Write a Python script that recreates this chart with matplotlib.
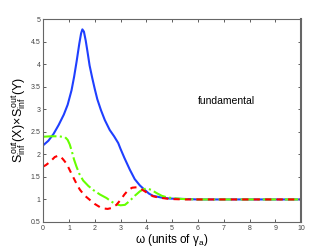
import matplotlib
matplotlib.use("Agg")
import matplotlib.pyplot as plt

plt.rcParams["font.family"] = ["Liberation Sans", "DejaVu Sans"]
plt.rcParams["mathtext.fontset"] = "custom"
plt.rcParams["mathtext.rm"] = "Liberation Sans"
plt.rcParams["mathtext.it"] = "Liberation Sans"

# blue solid curve
omega_b = [0.0, 0.2, 0.4, 0.6, 0.8, 0.95, 1.1, 1.2, 1.3, 1.4, 1.47, 1.52, 1.58, 1.65, 1.72,
           1.8, 1.9, 2.0, 2.1, 2.24, 2.39, 2.58, 2.75, 2.91, 3.0, 3.15, 3.36, 3.55, 3.75,
           3.94, 4.1, 4.26, 4.6, 4.91, 5.5, 6, 7, 8, 9, 10]
val_b = [2.2, 2.3, 2.45, 2.65, 2.88, 3.1, 3.42, 3.72, 4.07, 4.45, 4.68, 4.77, 4.72, 4.52, 4.27,
         3.97, 3.7, 3.45, 3.22, 2.98, 2.76, 2.54, 2.4, 2.25, 2.12, 1.92, 1.66, 1.45, 1.31,
         1.21, 1.13, 1.08, 1.04, 1.02, 1.01, 1.0, 1.0, 1.0, 1.0, 1.0]

# green dash-dot curve
omega_g = [0.0, 0.3, 0.6, 0.85, 0.95, 1.03, 1.12, 1.2, 1.29, 1.4, 1.55, 1.75, 1.94, 2.2,
           2.46, 2.65, 2.84, 3.0, 3.17, 3.36, 3.55, 3.75, 3.9, 4.05, 4.2, 4.4, 4.6, 4.78,
           5.0, 5.4, 6, 7, 8, 9, 10]
val_g = [2.39, 2.4, 2.4, 2.38, 2.32, 2.22, 2.05, 1.88, 1.73, 1.57, 1.42, 1.30, 1.21, 1.11,
         1.03, 0.95, 0.89, 0.87, 0.88, 0.97, 1.08, 1.18, 1.23, 1.24, 1.21, 1.14, 1.08, 1.05,
         1.03, 1.01, 1.0, 1.0, 1.0, 1.0, 1.0]

# red dashed curve
omega_r = [0.0, 0.1, 0.26, 0.45, 0.58, 0.68, 0.8, 0.91, 1.03, 1.16, 1.3, 1.42, 1.6, 1.81,
           2.0, 2.2, 2.35, 2.5, 2.65, 2.84, 3.0, 3.15, 3.3, 3.45, 3.62, 3.8, 3.94, 4.1,
           4.26, 4.5, 4.91, 5.5, 6, 7, 8, 9, 10]
val_r = [1.73, 1.76, 1.83, 1.94, 1.97, 1.95, 1.87, 1.79, 1.65, 1.50, 1.34, 1.22, 1.09, 0.99,
         0.90, 0.83, 0.80, 0.79, 0.81, 0.88, 0.99, 1.11, 1.21, 1.26, 1.27, 1.23, 1.18, 1.12,
         1.07, 1.04, 1.01, 1.0, 1.0, 1.0, 1.0, 1.0, 1.0]

x_ticks = [0, 1, 2, 3, 4, 5, 6, 7, 8, 9, 10]
y_ticks = [0.5, 1, 1.5, 2, 2.5, 3, 3.5, 4, 4.5, 5]

fig = plt.figure(figsize=(3.32, 2.5), dpi=100)
ax = fig.add_axes([0.130, 0.112, 0.777, 0.812])
ax.plot(omega_b, val_b, color="#1f3fff", lw=1.5, ls="-")
ax.plot(omega_g, val_g, color="#66ff00", lw=1.5, ls="-.")
ax.plot(omega_r, val_r, color="#ff0000", lw=1.5, ls=(0, (3, 2.5)))

ax.set_xlim(0, 10); ax.set_ylim(0.5, 5)
ax.set_xticks(x_ticks); ax.set_yticks(y_ticks)
ax.set_xticklabels([str(t) for t in x_ticks])
ax.set_yticklabels([f"{t:g}" for t in y_ticks])
ax.tick_params(direction="in", length=2.5, width=0.6, labelsize=5, pad=2,
               top=True, right=True, colors="#444444")
for s in ax.spines.values():
    s.set_color("#666666"); s.set_linewidth(0.8)
ax.spines["right"].set_linewidth(1.5)

ax.text(6.0, 3.18, "fundamental", fontsize=7.5, ha="left", va="center")
ax.set_xlabel(r"$\omega$ (units of $\gamma_a$)", fontsize=8.5, labelpad=0)
ax.set_ylabel(r"$S^{out}_{inf}(X)\!\times\! S^{out}_{inf}(Y)$", fontsize=9, labelpad=2)

fig.savefig("out.png", dpi=100)
